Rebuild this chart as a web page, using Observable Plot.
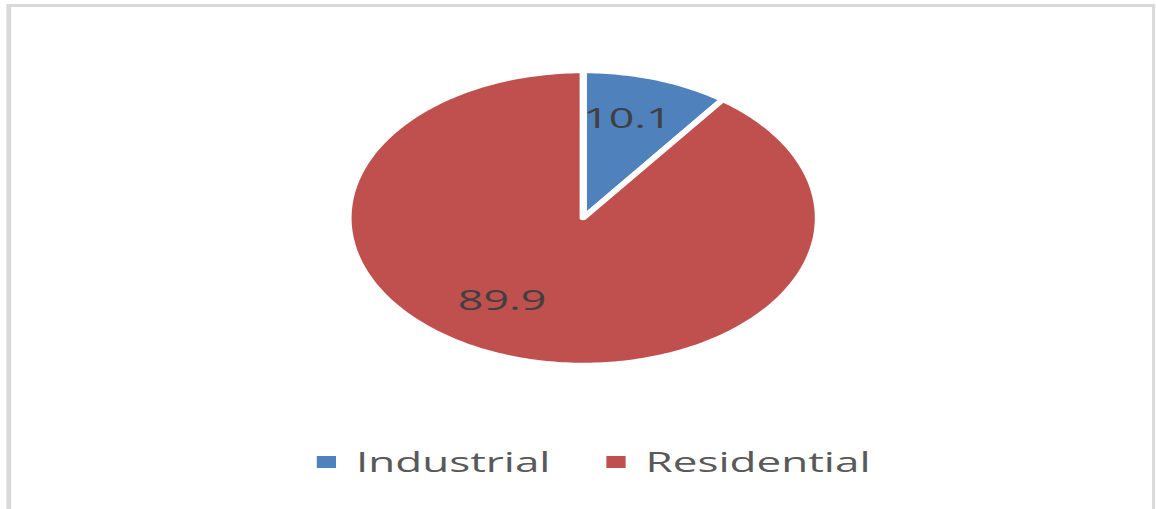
<!DOCTYPE html>
<html>
<head>
<meta charset="utf-8">
<script src="https://cdn.jsdelivr.net/npm/d3@7"></script>
<script src="https://cdn.jsdelivr.net/npm/@observablehq/plot@0.6"></script>
<style>
  html, body { margin: 0; padding: 0; background: #ffffff; overflow: hidden; }
  #wrap {
    position: absolute; left: 0; top: 0; width: 722.5px; height: 509px;
    transform: scaleX(1.6); transform-origin: 0 0;
    font-family: "Open Sans", sans-serif;
  }
  #frame {
    position: absolute; left: 3.75px; top: 4px; width: 718.25px; height: 530px;
    box-sizing: border-box; border: 3px solid #d9d9d9; border-right-width: 2px;
  }
  #chart { position: absolute; left: 0; top: 0; }
  #legend { position: absolute; left: 0; top: 444px; width: 722.5px; height: 40px; }
  .item { position: absolute; top: 0; display: flex; align-items: center; height: 36px; }
  .sw { width: 12.5px; height: 12px; margin-right: 12.5px; }
  .lab { font-size: 27.5px; color: #595959; line-height: 36px; }
</style>
</head>
<body>
<div id="wrap">
  <div id="frame"></div>
  <div id="chart"></div>
  <div id="legend"></div>
</div>
<script>
// Data
const categories = ["Industrial", "Residential"];
const values = [10.1, 89.9];
const colors = ["#4f81bd", "#c0504d"];

// Build slice polygons from the values (angles measured clockwise from 12 o'clock)
const total = d3.sum(values);
let acc = 0;
const slices = categories.map((c, i) => {
  const a0 = acc / total * 2 * Math.PI;
  acc += values[i];
  const a1 = acc / total * 2 * Math.PI;
  return {c, v: values[i], a0, a1, mid: (a0 + a1) / 2};
});
const pts = slices.flatMap(s => {
  const n = Math.max(2, Math.ceil((s.a1 - s.a0) / (Math.PI / 180)));
  const arr = [{c: s.c, x: 0, y: 0}];
  for (let k = 0; k <= n; k++) {
    const a = s.a0 + (s.a1 - s.a0) * k / n;
    arr.push({c: s.c, x: Math.sin(a), y: Math.cos(a)});
  }
  return arr;
});

const cx = 364, cy = 217.5, r = 147;
const lr = 0.69;
const plot = Plot.plot({
  width: 722, height: 420, margin: 0,
  style: {background: "transparent", fontFamily: "Open Sans", overflow: "visible"},
  x: {domain: [-1, 1], range: [cx - r, cx + r], axis: null},
  y: {domain: [-1, 1], range: [cy + r, cy - r], axis: null},
  color: {domain: categories, range: colors},
  marks: [
    Plot.line(pts, {x: "x", y: "y", z: "c", fill: "c", stroke: "white", strokeWidth: 4.5, curve: "linear-closed"}),
    Plot.text(slices.filter((s, i) => i === 0), {
      x: s => lr * Math.sin(s.mid), y: s => lr * Math.cos(s.mid),
      text: s => s.v.toFixed(1), fontSize: 28, fill: "#404040", dx: -4, dy: -3
    }),
    Plot.text(slices.filter((s, i) => i === 1), {
      x: s => lr * Math.sin(s.mid), y: s => lr * Math.cos(s.mid),
      text: s => s.v.toFixed(1), fontSize: 28, fill: "#404040", dx: -19, dy: -13
    })
  ]
});
document.getElementById("chart").appendChild(plot);

// Legend
const legendX = [197.5, 378.5];
const leg = d3.select("#legend");
categories.forEach((c, i) => {
  const it = leg.append("div").attr("class", "item").style("left", legendX[i] + "px");
  it.append("div").attr("class", "sw").style("background", colors[i]);
  it.append("span").attr("class", "lab").text(c);
});
</script>
</body>
</html>
